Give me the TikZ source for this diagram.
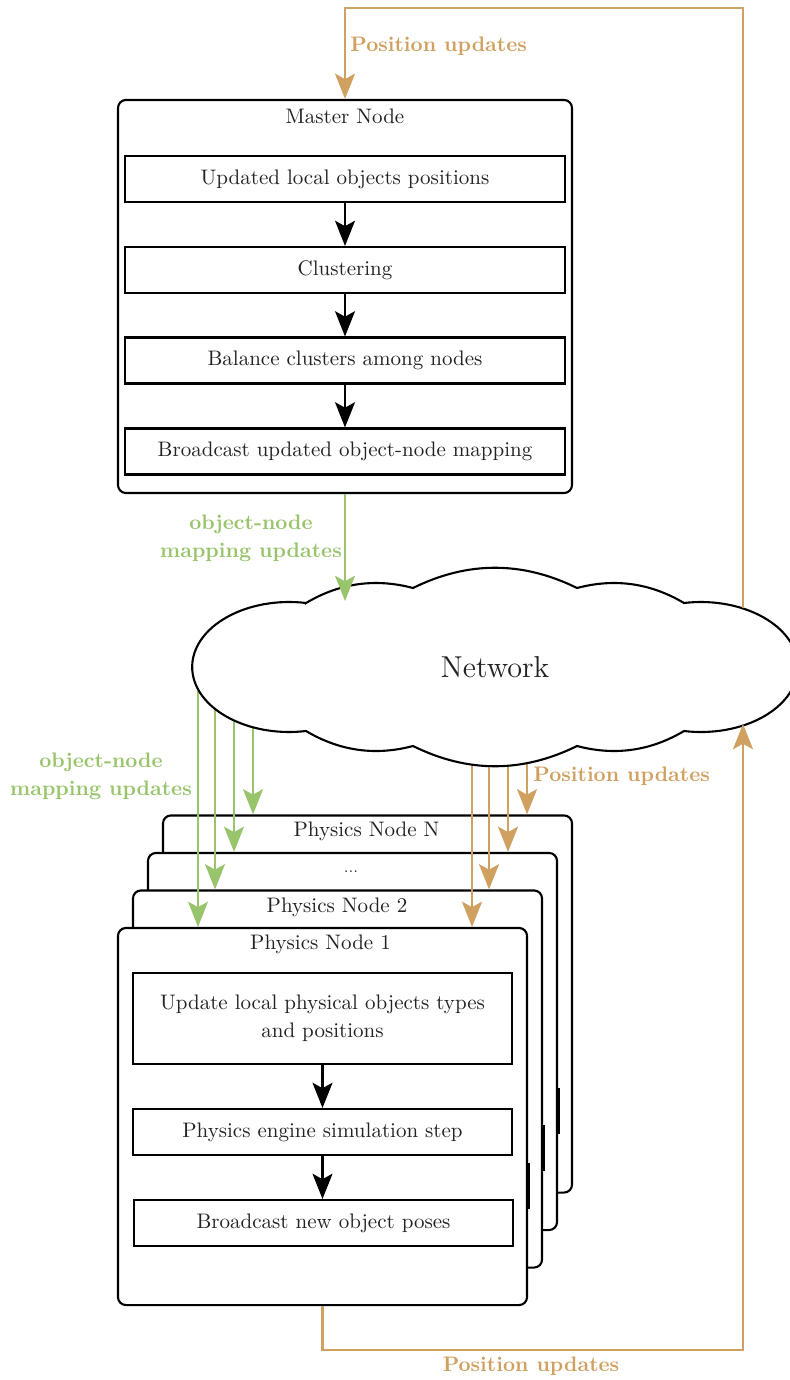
\documentclass[tikz,border=0pt]{standalone}
\usetikzlibrary{arrows.meta}

\definecolor{posorange}{RGB}{207,160,96}
\definecolor{mapgreen}{RGB}{152,196,108}
\definecolor{ink}{RGB}{34,34,34}

\pgfdeclarelayer{cards}
\pgfdeclarelayer{edges}
\pgfsetlayers{cards,edges,main}

\tikzset{
  tipshape/.style={-{Stealth[length=12pt,width=9.5pt,inset=2.6pt]}},
  flowarrow/.style={tipshape, draw=black, line width=1pt},
  posline/.style={draw=posorange, line width=1.1pt},
  posarrow/.style={posline, tipshape, posorange},
  mapline/.style={draw=mapgreen, line width=1.1pt},
  maparrow/.style={mapline, tipshape, mapgreen},
  card/.style={draw=black, line width=1pt, rounded corners=3.8pt, fill=white, inner sep=0pt},
  stepbox/.style={draw=black, line width=1pt, fill=white, inner sep=0pt, align=center},
  tag/.style={font=\fontsize{10}{13.3}\selectfont\bfseries, align=center},
  title/.style={inner sep=0pt},
}

\begin{document}
\begin{tikzpicture}[x=0.476pt, y=-0.476pt, font=\fontsize{10}{13.3}\selectfont, text=ink]
\useasboundingbox (0,0) rectangle (790,1380);

% ---------------- master node ----------------
\node[card, minimum width=216.1pt, minimum height=187.1pt] (master) at (345,296.5) {};
\node[title] (mastertitle) at (345,116) {Master Node};
\node[stepbox, minimum width=209.4pt, minimum height=21.9pt] (m1) at (345,179) {Updated local objects positions};
\node[stepbox, minimum width=209.4pt, minimum height=21.9pt] (m2) at (345,270) {Clustering};
\node[stepbox, minimum width=209.4pt, minimum height=21.9pt] (m3) at (345,360.5) {Balance clusters among nodes};
\node[stepbox, minimum width=209.4pt, minimum height=21.9pt] (m4) at (345,451.5) {Broadcast updated object-node mapping};
\draw[flowarrow] (m1) -- (m2);
\draw[flowarrow] (m2) -- (m3);
\draw[flowarrow] (m3) -- (m4);

% ---------------- network cloud ----------------
\draw[black, line width=1pt, fill=white]
  (306,603) .. controls (339.7,583) and (375.3,578) .. (413,588)
            .. controls (467.7,561) and (522.3,561) .. (577,588)
            .. controls (614.7,578) and (650.3,583) .. (684,603)
  arc[start angle=-100, end angle=100, x radius=97, y radius=65]
            .. controls (650.3,751) and (614.7,756) .. (577,746)
            .. controls (522.3,773) and (467.7,773) .. (413,746)
            .. controls (375.3,756) and (339.7,751) .. (306,731)
  arc[start angle=80, end angle=280, x radius=97, y radius=65] -- cycle;
\node[font=\Large] (net) at (495,667) {Network};
\coordinate (netin) at (345,601);
\coordinate (netup) at (743,608);
\coordinate (netback) at (743,724);

% ---------------- physics node stack ----------------
\begin{pgfonlayer}{cards}
\node[card, minimum width=194.7pt, minimum height=179.5pt] (physN) at (367.5,1004) {};
\node[title] (titleN) at (366.5,831) {Physics Node N};
% right edge of the last step of the card behind
\draw[black, line width=1pt] (558.5,1087.5) -- (558.5,1133.5);
\node[card, minimum width=194.7pt, minimum height=179.5pt] (physD) at (352.5,1041.5) {};
\node[title, font=\scriptsize] (titleD) at (351,872) {...};
\draw[black, line width=1pt] (543.5,1125) -- (543.5,1171);
\node[card, minimum width=194.7pt, minimum height=179.5pt] (phys2) at (337.5,1079) {};
\node[title] (title2) at (337,907) {Physics Node 2};
\draw[black, line width=1pt] (528.5,1162.5) -- (528.5,1208.5);
\node[card, minimum width=194.7pt, minimum height=179.5pt] (phys1) at (322.5,1116.5) {};
\node[title] (title1) at (320.5,944) {Physics Node 1};
\node[stepbox, minimum width=180.4pt, minimum height=43.3pt] (p1) at (322.5,1018.5) {Update local physical objects types\\and positions};
\node[stepbox, minimum width=180.4pt, minimum height=21.9pt] (p2) at (322.5,1132) {Physics engine simulation step};
\node[stepbox, minimum width=180.4pt, minimum height=21.9pt] (p3) at (323.5,1223) {Broadcast new object poses};
\draw[flowarrow] (p1) -- (p2);
\draw[flowarrow] (p2) -- (p2 |- p3.north);
\end{pgfonlayer}

% ---------------- mapping updates ----------------
\draw[maparrow] (master.south -| netin) -- (netin);
\node[tag, text=mapgreen] (maptag) at (251,538) {object-node\\mapping updates};

\begin{pgfonlayer}{edges}
\draw[maparrow] (198,0 |- net) -- (198,0 |- phys1.north);
\draw[maparrow] (215,0 |- net) -- (215,0 |- phys2.north);
\draw[maparrow] (234,0 |- net) -- (234,0 |- physD.north);
\draw[maparrow] (253,0 |- net) -- (253,0 |- physN.north);
\draw[posarrow] (472,0 |- net) -- (472,0 |- phys1.north);
\draw[posarrow] (489,0 |- net) -- (489,0 |- phys2.north);
\draw[posarrow] (508,0 |- net) -- (508,0 |- physD.north);
\draw[posarrow] (527,0 |- net) -- (527,0 |- physN.north);
\end{pgfonlayer}
\node[tag, text=mapgreen] (stacktag) at (101,776) {object-node\\mapping updates};
\node[tag, text=posorange, anchor=west] (stackpos) at (526,776) {Position updates};

% ---------------- position update loop ----------------
\coordinate (loopTop) at (743,8);
\coordinate (loopBottom) at (743,1350);
\draw[posarrow] (netup) -- (loopTop) -| (master.north);
\node[tag, text=posorange, anchor=west] (toptag) at (343,46) {Position updates};
\draw[posarrow] (phys1.south) |- (loopBottom) -- (netback);
\node[tag, text=posorange] (bottomtag) at (531,1366) {Position updates};
\end{tikzpicture}
\end{document}
